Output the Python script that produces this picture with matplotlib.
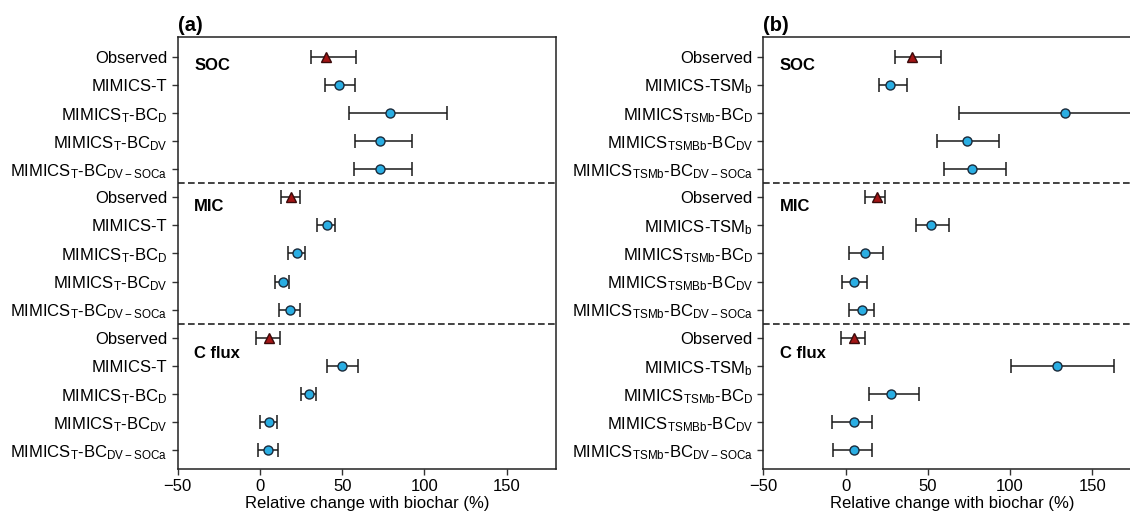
import numpy as np
import matplotlib
matplotlib.use('Agg')
import matplotlib.pyplot as plt

plt.rcParams['font.family'] = ['Liberation Sans', 'DejaVu Sans']
plt.rcParams['mathtext.fontset'] = 'custom'
plt.rcParams['mathtext.rm'] = 'Liberation Sans'
plt.rcParams['mathtext.it'] = 'Liberation Sans:italic'
plt.rcParams['mathtext.bf'] = 'Liberation Sans:bold'

# -----------------------------------------------------------------------------
# data: rows top to bottom, 3 groups x 5 rows
groups = ['SOC', 'MIC', 'C flux']

labels_a = ['Observed', 'MIMICS-T', r'MIMICS$_{\rm T}$-BC$_{\rm D}$',
            r'MIMICS$_{\rm T}$-BC$_{\rm DV}$', r'MIMICS$_{\rm T}$-BC$_{\rm DV-SOCa}$']
labels_b = ['Observed', r'MIMICS-TSM$_{\rm b}$', r'MIMICS$_{\rm TSMb}$-BC$_{\rm D}$',
            r'MIMICS$_{\rm TSMBb}$-BC$_{\rm DV}$', r'MIMICS$_{\rm TSMb}$-BC$_{\rm DV-SOCa}$']

# panel (a): mean, lower, upper
mean_a = [40.0, 48.3, 79.2, 72.7, 73.1,
          19.1, 40.6, 22.2, 13.8, 18.3,
          5.3, 49.8, 29.7, 5.3, 5.1]
low_a = [30.9, 39.6, 54.2, 57.7, 57.2,
         12.6, 34.9, 17.1, 9.1, 11.8,
         -2.6, 41.0, 24.8, 0.2, -1.0]
high_a = [58.3, 57.7, 113.5, 92.2, 92.6,
          24.2, 45.7, 27.2, 17.7, 24.4,
          12.2, 59.3, 34.3, 10.2, 11.0]

# panel (b)
mean_b = [40.1, 27.3, 133.6, 73.8, 77.1,
          19.3, 51.9, 12.0, 5.4, 9.8,
          5.4, 128.7, 27.5, 4.9, 4.9]
low_b = [30.1, 20.2, 68.7, 55.8, 59.8,
         12.0, 42.6, 1.8, -2.4, 1.8,
         -2.6, 100.8, 14.0, -8.2, -7.7]
high_b = [58.3, 37.5, 198.0, 93.5, 97.5,
          24.2, 62.7, 22.6, 13.1, 17.3,
          12.0, 163.0, 44.8, 15.8, 16.2]

group_label_y = [0.3, 5.34, 10.55]
# -----------------------------------------------------------------------------

BLUE = '#2aaee3'
RED = '#a31515'


def draw_panel(ax, labels, mean, low, high, tag):
    mean = np.array(mean)
    low = np.array(low)
    high = np.array(high)
    y = np.arange(len(mean))
    is_obs = np.array([i % 5 == 0 for i in range(len(mean))])

    err = np.vstack([mean - low, high - mean])
    ax.errorbar(mean, y, xerr=err, fmt='none', ecolor='#1a1a1a', elinewidth=1.1,
                capsize=5, capthick=1.1, zorder=2)
    ax.plot(mean[~is_obs], y[~is_obs], 'o', color=BLUE, markeredgecolor='#1a2a3a',
            markeredgewidth=1.0, markersize=6.5, zorder=3, linestyle='none')
    ax.plot(mean[is_obs], y[is_obs], '^', color=RED, markeredgecolor='#3a0a0a',
            markeredgewidth=1.0, markersize=7, zorder=3, linestyle='none')

    for yy in [4.5, 9.5]:
        ax.axhline(yy, color='#222222', linestyle='--', linewidth=1.2, dashes=(4, 2))

    for g, gy in zip(groups, group_label_y):
        ax.text(-40, gy, g, fontsize=12, fontweight='bold', va='center', ha='left')

    ax.set_yticks(y)
    ax.set_yticklabels(labels * 3, fontsize=12)
    ax.set_ylim(14.67, -0.71)
    ax.set_xlim(-50, 180)
    ax.set_xticks([-50, 0, 50, 100, 150])
    ax.set_xticklabels(['\u221250', '0', '50', '100', '150'], fontsize=12)
    ax.set_xlabel('Relative change with biochar (%)', fontsize=12, labelpad=1)
    ax.tick_params(direction='out', length=4, width=1, color='#333333')
    for s in ax.spines.values():
        s.set_linewidth(1.1)
        s.set_color('#222222')
    ax.set_title(tag, loc='left', fontsize=14.5, fontweight='bold', pad=4, x=0.0)


fig = plt.figure(figsize=(11.3, 5.18), dpi=100)
ax1 = fig.add_axes([0.1573, 0.0946, 0.3348, 0.8346])
ax2 = fig.add_axes([0.6755, 0.0946, 0.3348, 0.8346])

draw_panel(ax1, labels_a, mean_a, low_a, high_a, '(a)')
draw_panel(ax2, labels_b, mean_b, low_b, high_b, '(b)')

fig.savefig('out.png', dpi=100)
